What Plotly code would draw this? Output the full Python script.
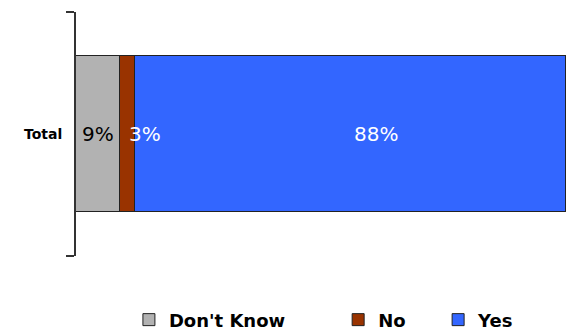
import plotly.graph_objects as go

categories = ["Total"]
series_names = ["Don't Know", "No", "Yes"]
series_values = [[9], [3], [88]]
series_colors = ["#B2B2B2", "#993300", "#3366FF"]
text_colors = ["#000000", "#FFFFFF", "#FFFFFF"]
label_shift = [0, 0, 26]
label_anchor = ["center", "left", "center"]
legend_ids = ["legend", "legend2", "legend3"]
legend_x = [0.108, 0.535, 0.739]

fig = go.Figure()
for name, vals, col, lg in zip(series_names, series_values, series_colors, legend_ids):
    fig.add_trace(go.Bar(
        y=categories, x=vals, name=name, orientation="h",
        marker=dict(color=col, line=dict(color="#222222", width=1)),
        width=0.64, legend=lg,
    ))

# value labels
annotations = []
cum = 0
for i, vals in enumerate(series_values):
    v = vals[0]
    mid = cum + v / 2
    annotations.append(dict(
        x=mid, y=categories[0], xref="x", yref="y", text=f"{v}%",
        showarrow=False, xanchor=label_anchor[i], xshift=label_shift[i],
        font=dict(family="DejaVu Sans", size=20, color=text_colors[i]),
    ))
    cum += v

leg_common = dict(orientation="h", y=-0.262, yanchor="middle", xanchor="left",
                  font=dict(family="DejaVu Sans", size=18, color="black", weight="bold"),
                  itemwidth=30, bgcolor="rgba(0,0,0,0)")

fig.update_layout(
    barmode="stack",
    width=566, height=332,
    margin=dict(l=76, r=0, t=12, b=76, autoexpand=False),
    plot_bgcolor="white", paper_bgcolor="white",
    showlegend=True,
    legend=dict(x=legend_x[0], **leg_common),
    legend2=dict(x=legend_x[1], **leg_common),
    legend3=dict(x=legend_x[2], **leg_common),
    annotations=annotations,
    bargap=0,
)
fig.update_xaxes(range=[0, 100], showgrid=False, showticklabels=False, zeroline=False,
                 showline=False, ticks="")
fig.update_yaxes(range=[-0.5, 0.5], showline=True, linecolor="#333333", linewidth=2,
                 ticks="outside", tickson="boundaries", ticklen=8, tickwidth=2,
                 tickcolor="#333333", showgrid=False,
                 tickfont=dict(family="DejaVu Sans", size=14, color="black",
                               weight="bold"),
                 ticklabelstandoff=9)
fig.write_html("out.html")
